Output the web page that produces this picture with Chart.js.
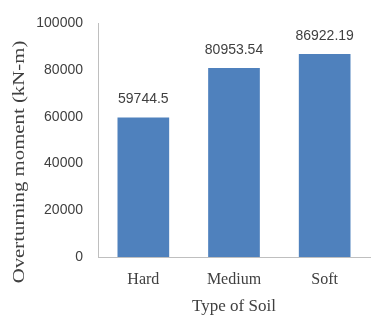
<!DOCTYPE html>
<html>
<head>
<meta charset="utf-8">
<script src="https://cdn.jsdelivr.net/npm/chart.js@4/dist/chart.umd.min.js"></script>
<style>
  html, body { margin: 0; padding: 0; background: #fff; }
  #wrap { width: 371px; height: 325px; }
</style>
</head>
<body>
<div id="wrap"><canvas id="c" width="371" height="325"></canvas></div>
<script>
// Overturning moment by soil type
const soilTypes = ['Hard', 'Medium', 'Soft'];
const overturningMoment = [59744.5, 80953.54, 86922.19];
const momentLabels = ['59744.5', '80953.54', '86922.19'];
const yTicks = [0, 20000, 40000, 60000, 80000, 100000];
const yTitle = 'Overturning moment (kN-m)';

const textColor = '#404040';
const axisColor = '#bfbfbf';
const serif = '"Liberation Serif", "Times New Roman", serif';
const sans = '"Liberation Sans", Arial, sans-serif';

// Writes each bar's value just above it
const valueLabels = {
  id: 'valueLabels',
  afterDatasetsDraw(chart) {
    const ctx = chart.ctx;
    const meta = chart.getDatasetMeta(0);
    ctx.save();
    ctx.font = '14px ' + sans;
    ctx.fillStyle = textColor;
    ctx.textAlign = 'center';
    ctx.textBaseline = 'middle';
    meta.data.forEach((bar, i) => {
      ctx.fillText(momentLabels[i], bar.x, bar.y - 18);
    });
    ctx.restore();
  }
};

// Vertical axis title, set a little below the axis middle and drawn tall
const yAxisTitle = {
  id: 'yAxisTitle',
  afterDraw(chart) {
    const ctx = chart.ctx;
    ctx.save();
    ctx.translate(20, 162);
    ctx.rotate(-Math.PI / 2);
    ctx.scale(1.3, 1);
    ctx.font = '16px ' + serif;
    ctx.fillStyle = textColor;
    ctx.textAlign = 'center';
    ctx.textBaseline = 'middle';
    ctx.fillText(yTitle, 0, 0);
    ctx.restore();
  }
};

new Chart(document.getElementById('c'), {
  type: 'bar',
  data: {
    labels: soilTypes,
    datasets: [{
      data: overturningMoment,
      backgroundColor: '#4F81BD',
      borderWidth: 0,
      barPercentage: 0.57,
      categoryPercentage: 1
    }]
  },
  options: {
    responsive: false,
    animation: false,
    layout: { padding: { top: 17, right: 1, left: 0, bottom: 0 } },
    plugins: {
      legend: { display: false },
      tooltip: { enabled: false }
    },
    scales: {
      x: {
        grid: { display: false, drawTicks: false },
        border: { display: true, color: axisColor, width: 1 },
        ticks: {
          color: textColor,
          padding: 13,
          font: { family: serif, size: 16 }
        },
        title: {
          display: true,
          text: 'Type of Soil',
          color: textColor,
          padding: { top: 0, bottom: 8 },
          font: { family: serif, size: 17 }
        },
        afterFit(scale) { scale.height = 68; }
      },
      y: {
        min: 0,
        max: 100000,
        grid: { display: false, drawTicks: false },
        border: { display: true, color: axisColor, width: 1 },
        afterBuildTicks(scale) { scale.ticks = yTicks.map(v => ({ value: v })); },
        ticks: {
          color: textColor,
          padding: 15,
          font: { family: sans, size: 14 },
          callback: (v) => String(v)
        },
        afterFit(scale) { scale.width = 98; }
      }
    }
  },
  plugins: [valueLabels, yAxisTitle]
});
</script>
</body>
</html>
